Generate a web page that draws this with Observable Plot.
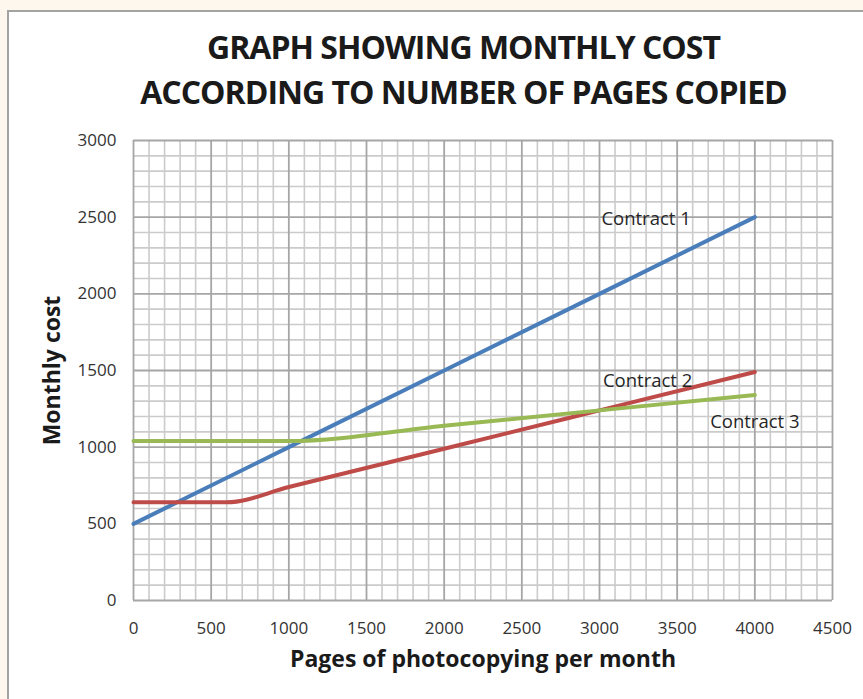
<!DOCTYPE html>
<html>
<head>
<meta charset="utf-8">
<script src="https://cdn.jsdelivr.net/npm/d3@7"></script>
<script src="https://cdn.jsdelivr.net/npm/@observablehq/plot@0.6"></script>
<style>
  html, body { margin: 0; padding: 0; background: #fdf7ee; width: 863px; height: 699px; overflow: hidden; }
  #box { position: absolute; left: 7px; top: 10px; width: 900px; height: 720px; background: #fff;
         border-left: 2px solid #a3a3a3; border-top: 2px solid #a3a3a3; box-sizing: border-box; }
  #title { position: absolute; left: 0; top: 0; width: 863px; height: 120px; text-align: center;
           font-family: "Open Sans", sans-serif; font-weight: 700; color: #1a1a1a; }
  #title div { position: absolute; left: 0; width: 863px; font-size: 32px; line-height: 36px; letter-spacing: -1px; }
  #chart { position: absolute; left: 0; top: 120px; }
</style>
</head>
<body>
<div id="box"></div>
<div id="title">
  <div style="top:29px; left:32px">GRAPH SHOWING MONTHLY COST</div>
  <div style="top:74px; left:32px">ACCORDING TO NUMBER OF PAGES COPIED</div>
</div>
<div id="chart"></div>
<script>
// Data
const contract1Pages = [0, 1000, 2000, 3000, 4000];
const contract1Cost  = [500, 1000, 1500, 2000, 2500];
const contract2Pages = [0, 600, 1000, 2000, 3000, 4000];
const contract2Cost  = [640, 640, 740, 990, 1240, 1490];
const contract3Pages = [0, 1000, 2000, 3000, 4000];
const contract3Cost  = [1040, 1040, 1140, 1240, 1340];
const seriesNames  = ["Contract 1", "Contract 2", "Contract 3"];
const seriesColors = ["#4a7ebb", "#be4b48", "#98b954"];
const labelPages = [3300, 3310, 4000];
const labelCost  = [2490, 1430, 1165];
const xTicks = [0, 500, 1000, 1500, 2000, 2500, 3000, 3500, 4000, 4500];
const yTicks = [0, 500, 1000, 1500, 2000, 2500, 3000];
const xMinor = d3.range(0, 4501, 100);
const yMinor = d3.range(0, 3001, 100);

const toRows = (name, xs, ys) => xs.map((x, i) => ({series: name, pages: x, cost: ys[i]}));
const lines = [
  toRows(seriesNames[0], contract1Pages, contract1Cost),
  toRows(seriesNames[1], contract2Pages, contract2Cost),
  toRows(seriesNames[2], contract3Pages, contract3Cost)
];
const labels = seriesNames.map((s, i) => ({series: s, pages: labelPages[i], cost: labelCost[i]}));

const chart = Plot.plot({
  width: 863,
  height: 579,
  marginLeft: 133,
  marginRight: 31,
  marginTop: 20,
  marginBottom: 99,
  style: {fontFamily: "'Open Sans', sans-serif", fontSize: "17px", background: "transparent"},
  x: {domain: [0, 4500]},
  y: {domain: [0, 3000]},
  marks: [
    Plot.ruleX(xMinor.filter(d => d % 500 !== 0), {stroke: "#cbcbcb", strokeWidth: 1.6, strokeOpacity: 1}),
    Plot.ruleY(yMinor.filter(d => d % 500 !== 0), {stroke: "#cbcbcb", strokeWidth: 1.6, strokeOpacity: 1}),
    Plot.ruleX(xTicks, {stroke: "#a6a6a6", strokeWidth: 1.8, strokeOpacity: 1}),
    Plot.ruleY(yTicks, {stroke: "#a6a6a6", strokeWidth: 1.8, strokeOpacity: 1}),
    Plot.axisX({ticks: xTicks, tickFormat: "d", tickSize: 0, tickPadding: 21, fontSize: 17, fill: "#333", label: null}),
    Plot.axisY({ticks: yTicks, tickFormat: "d", tickSize: 0, tickPadding: 17, fontSize: 17, fill: "#333", label: null}),
    ...lines.map((rows, i) => Plot.line(rows, {
      x: "pages", y: "cost", stroke: seriesColors[i], strokeWidth: 4,
      curve: i === 0 ? "linear" : "monotone-x"
    })),
    Plot.text(labels, {x: "pages", y: "cost", text: "series", fontSize: 18.5, fill: "#262626"}),
    Plot.text(["Pages of photocopying per month"], {frameAnchor: "bottom", dy: 66, fontSize: 23, fontWeight: "bold", fill: "#1a1a1a"}),
    Plot.text(["Monthly cost"], {frameAnchor: "left", textAnchor: "middle", dx: -81, rotate: -90, fontSize: 23, fontWeight: "bold", fill: "#1a1a1a"})
  ]
});
document.getElementById("chart").appendChild(chart);
</script>
</body>
</html>
